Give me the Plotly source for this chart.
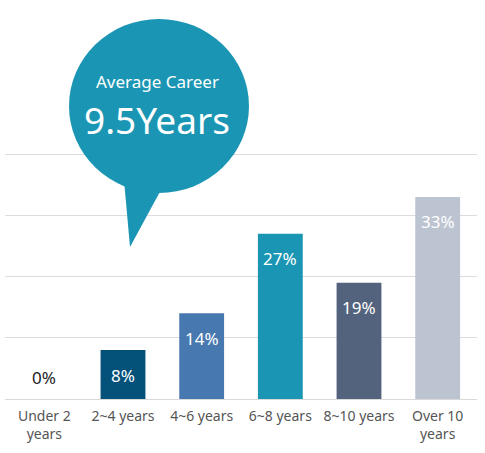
import plotly.graph_objects as go

categories = ["Under 2<br>years", "2~4 years", "4~6 years", "6~8 years", "8~10 years", "Over 10<br>years"]
shares = [0, 8, 14, 27, 19, 33]
bar_colors = ["#04527a", "#04527a", "#4878b0", "#1a96b4", "#53637d", "#bdc4d1"]
balloon_title = "Average Career"
balloon_value = "9.5Years"

W, H = 485, 453
M_L, M_R, M_T, M_B = 5, 8, 150, 54
PLOT_W = W - M_L - M_R
PLOT_H = H - M_T - M_B
PX_PER_UNIT = 6.125


def px(x):
    return (x - M_L) / PLOT_W


def py(y):
    return (H - M_B - y) / PLOT_H


fig = go.Figure(go.Bar(
    x=categories,
    y=shares,
    marker_color=bar_colors,
    marker_line_width=0,
    hoverinfo="skip",
))

# value labels
for cat, v in zip(categories, shares):
    if v == 0:
        fig.add_annotation(x=cat, y=v, text=f"{v}%", showarrow=False, yshift=22,
                           font=dict(size=17, color="#222222"))
    else:
        fig.add_annotation(x=cat, y=v, text=f"{v}%", showarrow=False, yshift=-25,
                           font=dict(size=17, color="#ffffff"))

# speech balloon
teal = "#1a96b4"
fig.add_shape(type="circle", xref="paper", yref="paper",
              x0=px(69), x1=px(249), y0=py(193), y1=py(19),
              fillcolor=teal, line_width=0, layer="above")
tail = f"M {px(124)},{py(180)} L {px(130)},{py(247)} L {px(162)},{py(188)} Z"
fig.add_shape(type="path", xref="paper", yref="paper", path=tail,
              fillcolor=teal, line_width=0, layer="above")
fig.add_annotation(xref="paper", yref="paper", x=px(157), y=py(82), text=balloon_title,
                   xanchor="center", yanchor="middle",
                   showarrow=False, font=dict(size=17, color="#ffffff"))
fig.add_annotation(xref="paper", yref="paper", x=px(157), y=py(119), text=balloon_value,
                   xanchor="center", yanchor="middle",
                   showarrow=False, font=dict(size=37, color="#ffffff"))

fig.update_layout(
    width=W, height=H,
    margin=dict(l=M_L, r=M_R, t=M_T, b=M_B),
    plot_bgcolor="white", paper_bgcolor="white",
    font=dict(family="Noto Sans, Open Sans, sans-serif"),
    bargap=0.43,
    showlegend=False,
    xaxis=dict(showgrid=False, showline=True, linecolor="#d9d9d9", linewidth=1,
               tickfont=dict(size=14, color="#555555"), ticks="", fixedrange=True,
               ticklabelstandoff=4, automargin=False),
    yaxis=dict(range=[0, PLOT_H / PX_PER_UNIT], dtick=10, showgrid=True, gridcolor="#dcdcdc",
               gridwidth=1, zeroline=False, showticklabels=False, fixedrange=True,
               automargin=False),
)

# drop the browser's default body margin so the figure sits at the page corner
fig.write_html("out.html", config={"displayModeBar": False},
               post_script="document.body.style.margin = '0';")
